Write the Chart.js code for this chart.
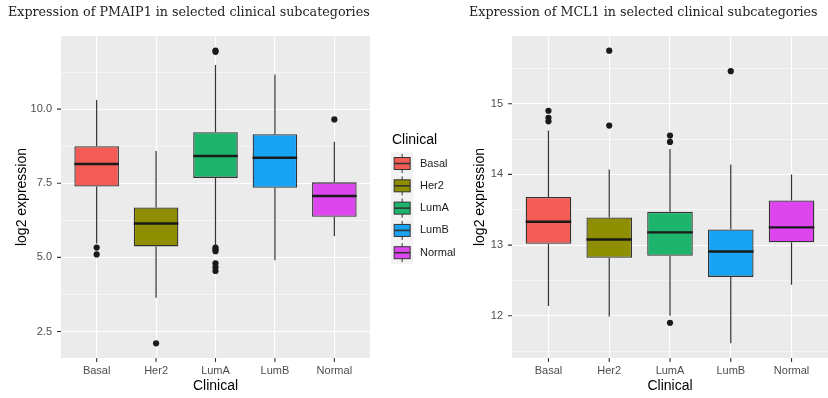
<!DOCTYPE html>
<html>
<head>
<meta charset="utf-8">
<script src="https://cdn.jsdelivr.net/npm/chart.js@4.4.1/dist/chart.umd.min.js"></script>
<style>
  html, body { margin: 0; padding: 0; background: #fff; width: 828px; height: 398px; overflow: hidden; }
  .wrap { position: absolute; top: 0; height: 398px; }
  #left { left: 0; width: 470px; }
  #right { left: 420px; width: 412px; }
</style>
</head>
<body>
<div class="wrap" id="left"><canvas id="pmaip1" width="470" height="398"></canvas></div>
<div class="wrap" id="right"><canvas id="mcl1" width="412" height="398"></canvas></div>
<script>
// subtypes and their fill colours
const categories = ['Basal', 'Her2', 'LumA', 'LumB', 'Normal'];
const boxColors = ['#F35B55', '#8E8E00', '#1DB46B', '#17A2F4', '#DD46EE'];

// PMAIP1 box statistics
const pmaip1Low = [5.47, 3.64, 5.42, 4.90, 5.71];
const pmaip1Q1 = [7.39, 5.37, 7.68, 7.35, 6.37];
const pmaip1Median = [8.15, 6.14, 8.42, 8.36, 7.07];
const pmaip1Q3 = [8.75, 6.68, 9.22, 9.15, 7.53];
const pmaip1High = [10.31, 8.59, 11.49, 11.17, 8.90];
const pmaip1Outliers = [[5.33, 5.10], [2.10], [11.97, 11.93, 5.33, 5.27, 5.21, 4.80, 4.67, 4.54], [], [9.65]];
const pmaip1YMajor = [2.5, 5.0, 7.5, 10.0];
const pmaip1YMinor = [3.75, 6.25, 8.75, 11.25];

// MCL1 box statistics
const mcl1Low = [12.14, 11.99, 12.00, 11.61, 12.44];
const mcl1Q1 = [13.02, 12.82, 12.85, 12.55, 13.04];
const mcl1Median = [13.33, 13.08, 13.18, 12.91, 13.25];
const mcl1Q3 = [13.68, 13.39, 13.47, 13.22, 13.63];
const mcl1High = [14.62, 14.07, 14.36, 14.14, 14.00];
const mcl1Outliers = [[14.90, 14.80, 14.75], [15.75, 14.69], [14.55, 14.46, 11.90], [15.46], []];
const mcl1YMajor = [12, 13, 14, 15];
const mcl1YMinor = [11.5, 12.5, 13.5, 14.5, 15.5];

const SANS = 'Liberation Sans';

// grey panel behind the grid
const panelBg = {
  id: 'panelBg',
  beforeDraw(chart) {
    const { ctx, chartArea: a } = chart;
    ctx.save();
    ctx.fillStyle = '#EBEBEB';
    ctx.fillRect(a.left, a.top, a.right - a.left, a.bottom - a.top);
    ctx.restore();
  }
};

// short dark tick marks outside the panel, only where there is a label
const axisTicks = {
  id: 'axisTicks',
  afterDraw(chart) {
    const { ctx, chartArea: a, scales } = chart;
    ctx.save();
    ctx.strokeStyle = '#333333';
    ctx.lineWidth = 1.1;
    ctx.beginPath();
    scales.x.ticks.forEach(t => {
      const px = scales.x.getPixelForValue(t.value);
      ctx.moveTo(px, a.bottom);
      ctx.lineTo(px, a.bottom + 4);
    });
    scales.y.ticks.forEach(t => {
      if (!t.label) return;
      const py = scales.y.getPixelForValue(t.value);
      ctx.moveTo(a.left - 4, py);
      ctx.lineTo(a.left, py);
    });
    ctx.stroke();
    ctx.restore();
  }
};

// whiskers + median line on top of the floating bars
const boxParts = {
  id: 'boxParts',
  afterDatasetsDraw(chart) {
    const ds = chart.data.datasets[0];
    const st = ds.stats;
    const meta = chart.getDatasetMeta(0);
    const y = chart.scales.y;
    const ctx = chart.ctx;
    ctx.save();
    meta.data.forEach((bar, i) => {
      const half = bar.width / 2;
      ctx.strokeStyle = '#333333';
      ctx.lineWidth = 1.2;
      ctx.beginPath();
      ctx.moveTo(bar.x, y.getPixelForValue(st.high[i]));
      ctx.lineTo(bar.x, y.getPixelForValue(st.q3[i]));
      ctx.moveTo(bar.x, y.getPixelForValue(st.q1[i]));
      ctx.lineTo(bar.x, y.getPixelForValue(st.low[i]));
      ctx.stroke();
      const my = y.getPixelForValue(st.median[i]);
      ctx.strokeStyle = '#1A1A1A';
      ctx.lineWidth = 2.4;
      ctx.beginPath();
      ctx.moveTo(bar.x - half, my);
      ctx.lineTo(bar.x + half, my);
      ctx.stroke();
    });
    ctx.restore();
  }
};

// "Clinical" legend with little boxplot keys, right of the left panel
const clinicalLegend = {
  id: 'clinicalLegend',
  afterDraw(chart) {
    const { ctx, chartArea: a } = chart;
    const cy = (a.top + a.bottom) / 2;
    const kx = a.right + 21;
    const key = 22.3;
    ctx.save();
    ctx.textBaseline = 'middle';
    ctx.textAlign = 'left';
    ctx.fillStyle = '#000';
    ctx.font = '14px ' + SANS;
    ctx.fillText('Clinical', kx + 1, cy - 57);
    ctx.font = '11px ' + SANS;
    categories.forEach((c, i) => {
      const ky = cy - 33.5 + i * key;
      ctx.fillStyle = '#F2F2F2';
      ctx.fillRect(kx, ky - key / 2, key, key);
      const mx = kx + key / 2;
      ctx.strokeStyle = '#333333';
      ctx.lineWidth = 1;
      ctx.beginPath();
      ctx.moveTo(mx, ky - 9.5);
      ctx.lineTo(mx, ky + 9.5);
      ctx.stroke();
      ctx.fillStyle = boxColors[i];
      ctx.fillRect(mx - 8, ky - 6, 16, 12);
      ctx.strokeRect(mx - 8, ky - 6, 16, 12);
      ctx.lineWidth = 1.6;
      ctx.beginPath();
      ctx.moveTo(mx - 8, ky);
      ctx.lineTo(mx + 8, ky);
      ctx.stroke();
      ctx.fillStyle = '#1A1A1A';
      ctx.fillText(c, kx + 29, ky);
    });
    ctx.restore();
  }
};

function yRange(low, high, outliers) {
  const all = low.concat(high, outliers.flat());
  const lo = Math.min(...all), hi = Math.max(...all);
  const pad = (hi - lo) * 0.05;
  return [lo - pad, hi + pad];
}

function makeBoxChart(id, opt) {
  const [ymin, ymax] = yRange(opt.low, opt.high, opt.outliers);
  const major = opt.yMajor;
  const isMajor = v => major.includes(v);
  return new Chart(document.getElementById(id), {
    type: 'bar',
    data: {
      datasets: [
        {
          type: 'bar',
          data: categories.map((c, i) => ({ x: i + 1, y: [opt.q1[i], opt.q3[i]] })),
          backgroundColor: boxColors,
          borderColor: '#333333',
          borderWidth: 1.3,
          borderSkipped: false,
          barPercentage: 0.75,
          categoryPercentage: 1,
          stats: { low: opt.low, q1: opt.q1, median: opt.median, q3: opt.q3, high: opt.high }
        },
        {
          type: 'scatter',
          data: opt.outliers.flatMap((vals, i) => vals.map(v => ({ x: i + 1, y: v }))),
          pointRadius: 3.1,
          pointBackgroundColor: '#1A1A1A',
          pointBorderWidth: 0
        }
      ]
    },
    options: {
      responsive: false,
      animation: false,
      layout: { padding: opt.padding },
      plugins: {
        legend: { display: false },
        tooltip: { enabled: false },
        title: {
          display: true,
          text: opt.title,
          align: 'start',
          color: '#222222',
          font: { family: 'DejaVu Serif', size: 12.7, weight: 'normal' },
          padding: { top: 4.6, bottom: 16.2 }
        }
      },
      scales: {
        x: {
          type: 'linear',
          min: 0.4,
          max: 5.6,
          offset: false,
          afterBuildTicks: s => { s.ticks = categories.map((c, i) => ({ value: i + 1 })); },
          afterFit: s => { s.height = 40; },
          ticks: {
            callback: v => categories[Math.round(v) - 1],
            autoSkip: false,
            maxRotation: 0,
            color: '#4D4D4D',
            font: { family: SANS, size: 11 },
            padding: 2
          },
          grid: { offset: false, color: '#FFFFFF', lineWidth: 1.1, tickColor: 'rgba(0,0,0,0)', tickLength: 4 },
          border: { display: false },
          title: { display: true, text: 'Clinical', color: '#000', font: { family: SANS, size: 14 }, padding: { top: 0, bottom: 3 } }
        },
        y: {
          type: 'linear',
          min: ymin,
          max: ymax,
          afterBuildTicks: s => {
            s.ticks = major.concat(opt.yMinor).sort((a, b) => a - b).map(v => ({ value: v }));
          },
          afterFit: s => { s.width = opt.yWidth; },
          ticks: {
            callback: v => isMajor(v) ? v.toFixed(opt.decimals) : '',
            autoSkip: false,
            color: '#4D4D4D',
            font: { family: SANS, size: 11 },
            padding: 5
          },
          grid: {
            color: '#FFFFFF',
            lineWidth: c => isMajor(c.tick.value) ? 1.1 : 0.5,
            tickColor: 'rgba(0,0,0,0)',
            tickLength: 4
          },
          border: { display: false },
          title: { display: true, text: 'log2 expression', color: '#000', font: { family: SANS, size: 14 }, padding: { top: opt.yTitlePad } }
        }
      }
    },
    plugins: [panelBg, boxParts, axisTicks].concat(opt.extra || [])
  });
}

makeBoxChart('pmaip1', {
  title: 'Expression of PMAIP1 in selected clinical subcategories',
  low: pmaip1Low, q1: pmaip1Q1, median: pmaip1Median, q3: pmaip1Q3, high: pmaip1High,
  outliers: pmaip1Outliers, yMajor: pmaip1YMajor, yMinor: pmaip1YMinor, decimals: 1,
  padding: { left: 8, right: 100, top: 0, bottom: 0 }, yWidth: 53, yTitlePad: 6,
  extra: [clinicalLegend]
});

makeBoxChart('mcl1', {
  title: 'Expression of MCL1 in selected clinical subcategories',
  low: mcl1Low, q1: mcl1Q1, median: mcl1Median, q3: mcl1Q3, high: mcl1High,
  outliers: mcl1Outliers, yMajor: mcl1YMajor, yMinor: mcl1YMinor, decimals: 0,
  padding: { left: 49, right: 0, top: 0, bottom: 0 }, yWidth: 43, yTitlePad: 3
});
</script>
</body>
</html>
